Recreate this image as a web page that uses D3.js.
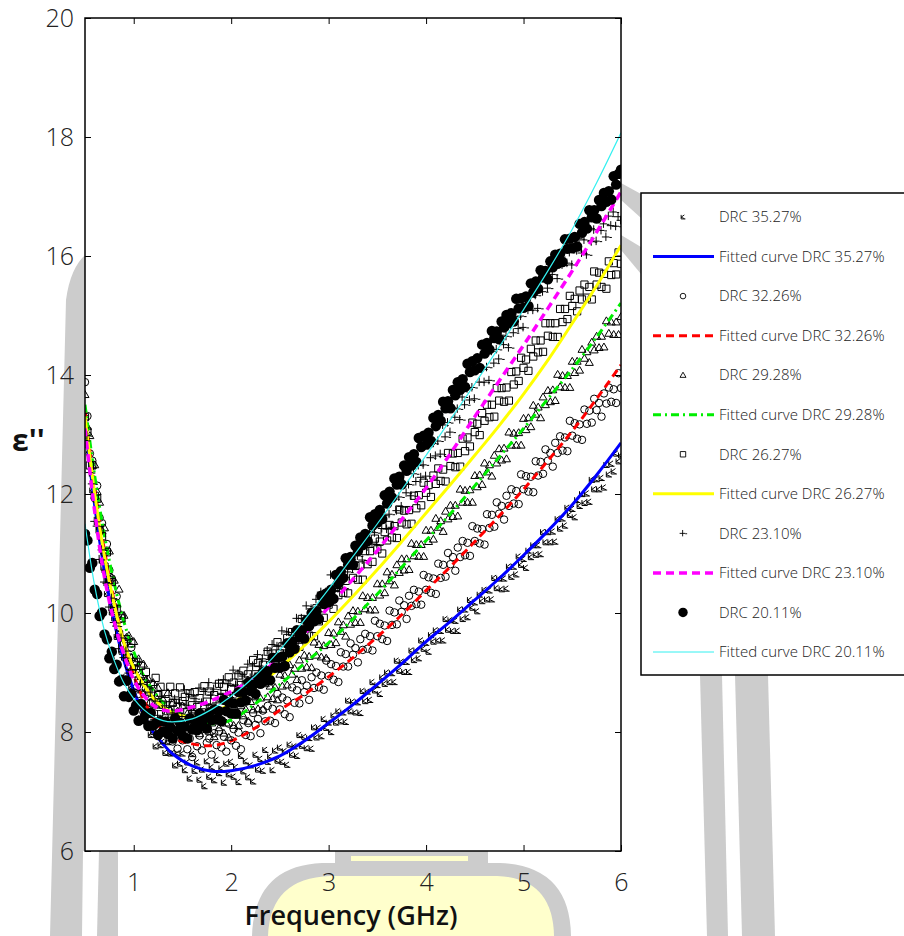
<!DOCTYPE html>
<html>
<head>
<meta charset="utf-8">
<script src="https://cdn.jsdelivr.net/npm/d3@7"></script>
<style>
  html, body { margin: 0; padding: 0; background: #fff; }
  svg { display: block; }
  text { font-family: "Open Sans", "DejaVu Sans", sans-serif; }
</style>
</head>
<body>
<svg id="chart" width="904" height="936"></svg>
<script>
// Loss factor ε'' versus frequency for latex samples with different dry rubber content (DRC)

// Frequency nodes of the fitted curves (GHz)
const fitFreq = [0.5, 0.6, 0.7, 0.8, 0.9, 1.0, 1.1, 1.2, 1.3, 1.4, 1.6, 1.8, 2.0, 2.25, 2.5, 2.75,
  3.0, 3.25, 3.5, 3.75, 4.0, 4.25, 4.5, 4.75, 5.0, 5.25, 5.5, 5.75, 6.0];

const fit3527 = [13.2, 11.8, 10.7, 9.85, 9.2, 8.7, 8.3, 8.0, 7.8, 7.63, 7.43, 7.34, 7.35, 7.44, 7.6, 7.85,
  8.15, 8.46, 8.8, 9.15, 9.52, 9.86, 10.22, 10.58, 10.97, 11.38, 11.82, 12.32, 12.86];
const fit3226 = [13.4, 12.1, 11.05, 10.2, 9.5, 8.95, 8.55, 8.25, 8.02, 7.9, 7.8, 7.77, 7.85, 8.07, 8.37, 8.63,
  8.93, 9.25, 9.6, 9.97, 10.38, 10.78, 11.2, 11.63, 12.08, 12.56, 13.06, 13.6, 14.17];
const fit2928 = [13.5, 12.3, 11.3, 10.5, 9.85, 9.35, 8.95, 8.7, 8.5, 8.38, 8.22, 8.14, 8.2, 8.48, 8.8, 9.15,
  9.5, 9.9, 10.32, 10.77, 11.22, 11.67, 12.14, 12.62, 13.1, 13.6, 14.1, 14.64, 15.21];
const fit2627 = [13.3, 12.0, 10.95, 10.15, 9.5, 9.08, 8.8, 8.57, 8.42, 8.32, 8.25, 8.32, 8.48, 8.75, 9.08, 9.45,
  9.85, 10.28, 10.73, 11.2, 11.68, 12.16, 12.65, 13.15, 13.68, 14.25, 14.87, 15.5, 16.18];
const fit2310 = [13.1, 11.7, 10.6, 9.85, 9.3, 8.88, 8.62, 8.45, 8.37, 8.35, 8.42, 8.53, 8.68, 8.92, 9.25, 9.65,
  10.1, 10.57, 11.05, 11.57, 12.1, 12.68, 13.3, 13.9, 14.5, 15.12, 15.75, 16.4, 17.08];
const fit2011 = [11.5, 10.45, 9.7, 9.2, 8.82, 8.56, 8.38, 8.26, 8.19, 8.17, 8.22, 8.38, 8.6, 8.95, 9.38, 9.88,
  10.4, 10.95, 11.5, 12.07, 12.65, 13.25, 13.85, 14.47, 15.1, 15.75, 16.45, 17.23, 18.07];

// Measurement sweep: 0.500 to 6.000 GHz in 0.025 GHz steps (four readings per 0.1 GHz)
const measFreq = d3.range(221).map(i => +(0.5 + i * 0.025).toFixed(3));

const drc3527 = [
  13.36, 12.83, 12.59, 12.06,  12.01, 11.53, 11.36, 10.88,  10.72, 10.32, 10.41, 10.01,
  9.91, 9.60, 9.67, 9.35,  9.25, 8.93, 9.03, 8.75,  8.76, 8.49, 8.51, 8.23,
  8.44, 8.18, 8.21, 7.95,  8.00, 7.76, 8.01, 7.78,  7.84, 7.65, 7.83, 7.64,
  7.65, 7.44, 7.64, 7.47,  7.64, 7.36, 7.49, 7.22,  7.63, 7.35, 7.49, 7.20,
  7.37, 7.09, 7.51, 7.25,  7.41, 7.19, 7.53, 7.31,  7.39, 7.15, 7.47, 7.29,
  7.50, 7.25, 7.41, 7.16,  7.60, 7.34, 7.51, 7.24,  7.44, 7.17, 7.62, 7.37,
  7.55, 7.35, 7.70, 7.50,  7.59, 7.36, 7.69, 7.52,  7.74, 7.50, 7.68, 7.45,
  7.79, 7.62, 7.76, 7.60,  7.95, 7.77, 7.92, 7.73,  7.90, 7.72, 8.08, 7.91,
  8.07, 7.93, 8.22, 8.07,  8.16, 8.00, 8.28, 8.16,  8.35, 8.18, 8.33, 8.17,
  8.53, 8.35, 8.51, 8.33,  8.50, 8.32, 8.69, 8.52,  8.68, 8.54, 8.84, 8.70,
  8.79, 8.64, 8.92, 8.81,  9.00, 8.84, 8.99, 8.84,  9.20, 9.03, 9.18, 9.01,
  9.18, 9.01, 9.37, 9.21,  9.37, 9.24, 9.54, 9.40,  9.50, 9.35, 9.63, 9.52,
  9.71, 9.54, 9.70, 9.54,  9.90, 9.72, 9.88, 9.70,  9.87, 9.70, 10.06, 9.90,
  10.06, 9.93, 10.22, 10.09,  10.18, 10.03, 10.31, 10.20,  10.39, 10.23, 10.38, 10.23,
  10.59, 10.42, 10.58, 10.40,  10.58, 10.41, 10.78, 10.61,  10.78, 10.65, 10.95, 10.81,
  10.91, 10.76, 11.05, 10.94,  11.14, 10.98, 11.14, 10.99,  11.36, 11.19, 11.36, 11.19,
  11.37, 11.20, 11.58, 11.42,  11.59, 11.47, 11.77, 11.65,  11.75, 11.61, 11.90, 11.80,
  12.00, 11.85, 12.01, 11.87,  12.24, 12.08, 12.25, 12.08,  12.27, 12.11, 12.49, 12.33,
  12.51, 12.38, 12.68, 12.55,
  12.65];

const drc3226 = [
  13.88, 13.31, 12.68, 12.56,  11.93, 12.14, 11.60, 11.51,  11.01, 11.16, 10.72, 10.58,
  10.10, 10.28, 9.89, 9.95,  9.49, 9.52, 9.10, 9.42,  8.98, 9.05, 8.64, 8.74,
  8.33, 8.73, 8.37, 8.48,  8.16, 8.46, 8.18, 8.20,  7.87, 8.19, 7.95, 8.15,
  7.84, 8.00, 7.72, 8.16,  7.86, 8.02, 7.71, 7.89,  7.58, 8.05, 7.76, 7.94,
  7.69, 8.05, 7.82, 7.89,  7.62, 7.98, 7.78, 8.01,  7.74, 7.92, 7.67, 8.14,
  7.86, 8.05, 7.77, 7.99,  7.71, 8.20, 7.95, 8.15,  7.93, 8.32, 8.12, 8.22,
  7.98, 8.36, 8.18, 8.44,  8.19, 8.39, 8.15, 8.64,  8.38, 8.58, 8.30, 8.53,
  8.25, 8.75, 8.49, 8.70,  8.48, 8.87, 8.67, 8.78,  8.54, 8.92, 8.74, 9.00,
  8.75, 8.95, 8.71, 9.20,  8.94, 9.14, 8.88, 9.11,  8.84, 9.34, 9.10, 9.31,
  9.10, 9.49, 9.30, 9.41,  9.17, 9.56, 9.38, 9.65,  9.40, 9.61, 9.37, 9.87,
  9.61, 9.82, 9.56, 9.79,  9.53, 10.04, 9.80, 10.01,  9.81, 10.21, 10.02, 10.13,
  9.90, 10.29, 10.12, 10.39,  10.15, 10.36, 10.14, 10.64,  10.39, 10.60, 10.34, 10.58,
  10.32, 10.83, 10.59, 10.81,  10.61, 11.01, 10.82, 10.94,  10.71, 11.10, 10.94, 11.21,
  10.97, 11.18, 10.96, 11.46,  11.21, 11.42, 11.17, 11.41,  11.15, 11.66, 11.43, 11.65,
  11.45, 11.86, 11.67, 11.80,  11.57, 11.97, 11.80, 12.08,  11.84, 12.05, 11.83, 12.33,
  12.08, 12.30, 12.04, 12.29,  12.03, 12.55, 12.31, 12.54,  12.34, 12.75, 12.56, 12.69,
  12.46, 12.86, 12.69, 12.97,  12.73, 12.95, 12.72, 13.23,  12.98, 13.19, 12.93, 13.17,
  12.91, 13.42, 13.18, 13.40,  13.20, 13.60, 13.41, 13.53,  13.30, 13.69, 13.52, 13.79,
  13.55, 13.76, 13.53, 14.03,
  13.78];

const drc2928 = [
  13.67, 13.13, 12.98, 12.48,  12.49, 12.04, 11.86, 11.38,  11.43, 11.05, 11.04, 10.60,
  10.55, 10.16, 10.40, 9.97,  9.96, 9.59, 9.62, 9.25,  9.52, 9.18, 9.23, 8.93,
  9.14, 8.88, 8.89, 8.59,  8.83, 8.60, 8.74, 8.45,  8.55, 8.29, 8.66, 8.37,
  8.49, 8.21, 8.35, 8.07,  8.44, 8.18, 8.31, 8.08,  8.37, 8.16, 8.22, 7.97,
  8.26, 8.07, 8.26, 8.01,  8.15, 7.92, 8.33, 8.07,  8.22, 7.98, 8.15, 7.91,
  8.32, 8.11, 8.28, 8.11,  8.44, 8.27, 8.38, 8.18,  8.51, 8.37, 8.59, 8.39,
  8.57, 8.38, 8.81, 8.59,  8.77, 8.56, 8.75, 8.54,  8.97, 8.77, 8.95, 8.79,
  9.13, 8.97, 9.07, 8.88,  9.21, 9.07, 9.29, 9.09,  9.27, 9.08, 9.51, 9.29,
  9.47, 9.26, 9.45, 9.24,  9.67, 9.47, 9.66, 9.50,  9.85, 9.69, 9.80, 9.61,
  9.95, 9.81, 10.04, 9.84,  10.03, 9.84, 10.29, 10.07,  10.26, 10.05, 10.26, 10.05,
  10.49, 10.30, 10.49, 10.34,  10.69, 10.54, 10.65, 10.47,  10.81, 10.68, 10.91, 10.72,
  10.91, 10.73, 11.17, 10.96,  11.15, 10.95, 11.15, 10.95,  11.39, 11.20, 11.39, 11.24,
  11.59, 11.44, 11.55, 11.37,  11.71, 11.58, 11.81, 11.62,  11.81, 11.63, 12.08, 11.86,
  12.06, 11.86, 12.07, 11.86,  12.31, 12.12, 12.32, 12.16,  12.52, 12.37, 12.49, 12.30,
  12.65, 12.52, 12.76, 12.57,  12.77, 12.59, 13.04, 12.82,  13.02, 12.82, 13.03, 12.82,
  13.27, 13.08, 13.28, 13.13,  13.49, 13.34, 13.46, 13.28,  13.63, 13.50, 13.74, 13.55,
  13.75, 13.57, 14.01, 13.80,  13.99, 13.79, 13.99, 13.79,  14.23, 14.04, 14.23, 14.08,
  14.43, 14.28, 14.39, 14.21,  14.55, 14.42, 14.65, 14.46,  14.65, 14.47, 14.91, 14.70,
  14.89, 14.68, 14.89, 14.68,
  14.98];

const drc2627 = [
  13.29, 13.05, 12.48, 12.48,  11.97, 11.92, 11.40, 11.29,  10.78, 11.02, 10.55, 10.52,
  10.04, 10.07, 9.64, 9.91,  9.49, 9.56, 9.25, 9.49,  9.17, 9.18, 8.86, 9.11,
  8.85, 9.01, 8.70, 8.80,  8.50, 8.91, 8.62, 8.76,  8.46, 8.64, 8.35, 8.76,
  8.49, 8.65, 8.42, 8.75,  8.52, 8.59, 8.34, 8.65,  8.45, 8.67, 8.42, 8.57,
  8.33, 8.77, 8.51, 8.68,  8.41, 8.62, 8.36, 8.81,  8.57, 8.76, 8.56, 8.92,
  8.72, 8.83, 8.61, 8.95,  8.79, 9.03, 8.80, 8.97,  8.75, 9.21, 8.97, 9.16,
  8.91, 9.13, 8.89, 9.35,  9.12, 9.32, 9.14, 9.51,  9.32, 9.44, 9.23, 9.58,
  9.43, 9.68, 9.46, 9.64,  9.43, 9.90, 9.67, 9.86,  9.62, 9.85, 9.61, 10.08,
  9.86, 10.08, 9.92, 10.31,  10.14, 10.27, 10.07, 10.44,  10.30, 10.56, 10.34, 10.54,
  10.33, 10.81, 10.59, 10.79,  10.56, 10.80, 10.56, 11.04,  10.82, 11.04, 10.86, 11.25,
  11.07, 11.20, 11.00, 11.36,  11.22, 11.48, 11.27, 11.46,  11.26, 11.74, 11.52, 11.72,
  11.49, 11.73, 11.50, 11.97,  11.76, 11.98, 11.81, 12.19,  12.02, 12.15, 11.95, 12.31,
  12.17, 12.43, 12.22, 12.41,  12.21, 12.69, 12.47, 12.68,  12.45, 12.69, 12.46, 12.93,
  12.72, 12.95, 12.80, 13.20,  13.04, 13.18, 12.99, 13.36,  13.23, 13.50, 13.29, 13.50,
  13.30, 13.78, 13.57, 13.78,  13.55, 13.79, 13.57, 14.05,  13.84, 14.06, 13.90, 14.29,
  14.12, 14.26, 14.07, 14.44,  14.31, 14.58, 14.38, 14.58,  14.39, 14.87, 14.66, 14.87,
  14.64, 14.87, 14.64, 15.11,  14.89, 15.11, 14.94, 15.33,  15.16, 15.28, 15.07, 15.42,
  15.27, 15.52, 15.30, 15.48,  15.27, 15.74, 15.52, 15.72,  15.48, 15.70, 15.45, 15.91,
  15.68, 15.88, 15.69, 16.06,
  15.87];

const drc2310 = [
  12.90, 12.98, 12.36, 12.17,  11.54, 11.46, 10.90, 11.06,  10.52, 10.50, 10.10, 10.25,
  9.84, 9.78, 9.40, 9.58,  9.25, 9.36, 8.99, 9.04,  8.68, 9.05, 8.71, 8.81,
  8.46, 8.61, 8.29, 8.67,  8.37, 8.52, 8.28, 8.60,  8.36, 8.44, 8.19, 8.51,
  8.32, 8.55, 8.32, 8.49,  8.26, 8.71, 8.45, 8.63,  8.36, 8.56, 8.30, 8.74,
  8.49, 8.68, 8.47, 8.83,  8.62, 8.72, 8.49, 8.82,  8.65, 8.88, 8.64, 8.81,
  8.58, 9.04, 8.79, 8.98,  8.72, 8.94, 8.69, 9.14,  8.91, 9.11, 8.93, 9.30,
  9.11, 9.23, 9.02, 9.37,  9.22, 9.47, 9.25, 9.44,  9.23, 9.70, 9.48, 9.68,
  9.44, 9.67, 9.44, 9.91,  9.69, 9.91, 9.73, 10.12,  9.94, 10.07, 9.87, 10.23,
  10.09, 10.35, 10.15, 10.35,  10.15, 10.64, 10.42, 10.64,  10.41, 10.65, 10.42, 10.90,
  10.69, 10.91, 10.74, 11.13,  10.96, 11.09, 10.89, 11.25,  11.11, 11.37, 11.16, 11.35,
  11.15, 11.64, 11.42, 11.64,  11.41, 11.66, 11.44, 11.92,  11.72, 11.95, 11.79, 12.18,
  12.02, 12.16, 11.97, 12.34,  12.21, 12.48, 12.28, 12.49,  12.30, 12.81, 12.61, 12.85,
  12.64, 12.89, 12.67, 13.16,  12.96, 13.20, 13.04, 13.45,  13.29, 13.43, 13.25, 13.63,
  13.50, 13.77, 13.58, 13.79,  13.60, 14.09, 13.88, 14.10,  13.88, 14.13, 13.91, 14.40,
  14.20, 14.43, 14.27, 14.67,  14.51, 14.65, 14.46, 14.84,  14.71, 14.98, 14.78, 14.99,
  14.80, 15.29, 15.09, 15.31,  15.09, 15.34, 15.12, 15.60,  15.40, 15.63, 15.46, 15.86,
  15.69, 15.82, 15.62, 15.99,  15.85, 16.10, 15.88, 16.06,  15.85, 16.32, 16.09, 16.29,
  16.05, 16.27, 16.02, 16.47,  16.24, 16.44, 16.25, 16.62,  16.43, 16.54, 16.32, 16.67,
  16.51, 16.74, 16.50, 16.66,
  16.60];

const drc2011 = [
  11.33, 11.22, 10.76, 10.84,  10.39, 10.32, 9.95, 10.01,  9.64, 9.56, 9.24, 9.35,
  9.06, 9.13, 8.85, 8.88,  8.60, 8.86, 8.59, 8.64,  8.36, 8.45, 8.19, 8.47,
  8.22, 8.31, 8.10, 8.32,  8.11, 8.15, 7.95, 8.18,  8.01, 8.17, 7.97, 8.08,
  7.89, 8.23, 8.02, 8.15,  7.94, 8.09, 7.89, 8.23,  8.04, 8.19, 8.03, 8.31,
  8.15, 8.23, 8.06, 8.33,  8.20, 8.38, 8.21, 8.35,  8.18, 8.54, 8.35, 8.50,
  8.31, 8.48, 8.31, 8.67,  8.50, 8.67, 8.53, 8.83,  8.69, 8.79, 8.64, 8.92,
  8.81, 9.01, 8.86, 9.02,  8.87, 9.25, 9.08, 9.25,  9.08, 9.27, 9.11, 9.49,
  9.34, 9.52, 9.40, 9.71,  9.59, 9.71, 9.57, 9.88,  9.78, 10.00, 9.86, 10.03,
  9.90, 10.29, 10.15, 10.33,  10.18, 10.39, 10.24, 10.64,  10.50, 10.70, 10.59, 10.92,
  10.81, 10.94, 10.81, 11.13,  11.04, 11.27, 11.14, 11.33,  11.21, 11.61, 11.47, 11.66,
  11.52, 11.73, 11.58, 11.98,  11.84, 12.04, 11.94, 12.26,  12.16, 12.29, 12.16, 12.48,
  12.39, 12.62, 12.48, 12.67,  12.54, 12.94, 12.79, 12.98,  12.83, 13.03, 12.89, 13.28,
  13.14, 13.33, 13.23, 13.55,  13.44, 13.56, 13.44, 13.75,  13.66, 13.88, 13.75, 13.93,
  13.80, 14.19, 14.05, 14.23,  14.08, 14.28, 14.12, 14.51,  14.36, 14.54, 14.43, 14.74,
  14.62, 14.73, 14.60, 14.90,  14.80, 15.01, 14.87, 15.04,  14.90, 15.28, 15.12, 15.29,
  15.13, 15.32, 15.16, 15.54,  15.39, 15.57, 15.45, 15.76,  15.64, 15.75, 15.61, 15.91,
  15.81, 16.02, 15.87, 16.04,  15.90, 16.28, 16.12, 16.29,  16.13, 16.32, 16.16, 16.54,
  16.39, 16.57, 16.46, 16.77,  16.65, 16.77, 16.63, 16.94,  16.84, 17.06, 16.91, 17.09,
  16.95, 17.34, 17.20, 17.38,
  17.45];

const xTicks = [1, 2, 3, 4, 5, 6];
const yTicks = [6, 8, 10, 12, 14, 16, 18, 20];
const drcLabels = ["35.27%", "32.26%", "29.28%", "26.27%", "23.10%", "20.11%"];

// ---------------------------------------------------------------------------
const svg = d3.select("#chart");
const m = { left: 85, right: 621, top: 18, bottom: 851 };

const x = d3.scaleLinear().domain([0.5, 6]).range([m.left, m.right]);
const y = d3.scaleLinear().domain([6, 20]).range([m.bottom, m.top]);

// Background emblem (faint grey arches and lamp shape behind the figure)
const bg = svg.append("g").attr("class", "emblem");
const grey = "#cccccc";
bg.append("path").attr("fill", grey)
  .attr("d", "M50,936 L66,300 Q71,262 92,250 L100,248 L100,851 L83,851 L82,936 Z");
bg.append("path").attr("fill", grey).attr("d", "M99,851 L118,851 L118,936 L97,936 Z");
bg.append("path").attr("fill", grey).attr("d", "M700,675 L722,675 L728,936 L707,936 Z");
bg.append("path").attr("fill", grey).attr("d", "M735,675 L768,675 L775,936 L742,936 Z");
bg.append("path").attr("fill", grey).attr("d", "M621,183 L641,194 L641,218 L621,200 Z");
bg.append("path").attr("fill", grey).attr("d", "M621,235 L641,247 L641,274 L621,250 Z");
// lamp body
bg.append("path").attr("fill", grey)
  .attr("d", "M335,850 L488,850 L488,863 L500,863 Q570,866 571,936 L252,936 Q254,866 322,863 L335,863 Z");
bg.append("path").attr("fill", "#ffffcc")
  .attr("d", "M268,936 Q270,878 330,876 L497,876 Q553,878 554,936 Z");
bg.append("rect").attr("fill", "#ffffcc").attr("x", 351).attr("y", 856).attr("width", 117).attr("height", 5);

// Plot area
svg.append("rect").attr("x", m.left).attr("y", m.top)
  .attr("width", m.right - m.left).attr("height", m.bottom - m.top)
  .attr("fill", "#fff");

svg.append("clipPath").attr("id", "clip").append("rect")
  .attr("x", m.left).attr("y", m.top)
  .attr("width", m.right - m.left).attr("height", m.bottom - m.top);
const plot = svg.append("g").attr("clip-path", "url(#clip)");

// Marker shapes
const markerPaths = {
  kx: "M-2.5,-2.8 L-2.5,2.6 L3.2,2.6 M-2.5,0.3 L1.8,-2.8 M-2.5,0.3 L2,2.2",
  circle: d3.symbol(d3.symbolCircle, 44)(),
  triangle: "M0,-4 L4,2.9 L-4,2.9 Z",
  square: "M-3.6,-3.6 H3.6 V3.6 H-3.6 Z",
  plus: "M-4.5,0 H3 M-0.5,-4.5 V4 M3,0.5 H5.5",
  dot: d3.symbol(d3.symbolCircle, 86)()
};

const series = [
  { meas: drc3527, fit: fit3527, marker: "kx", fill: "none", color: "#0000ff", width: 3, dash: null },
  { meas: drc3226, fit: fit3226, marker: "circle", fill: "none", color: "#ff0000", width: 3, dash: "8,5" },
  { meas: drc2928, fit: fit2928, marker: "triangle", fill: "none", color: "#00ee00", width: 3, dash: "8,4,2,4" },
  { meas: drc2627, fit: fit2627, marker: "square", fill: "none", color: "#ffff00", width: 3, dash: null },
  { meas: drc2310, fit: fit2310, marker: "plus", fill: "none", color: "#ff00ff", width: 3.5, dash: "8,5" },
  { meas: drc2011, fit: fit2011, marker: "dot", fill: "#000", color: "#33f0f0", width: 1.2, dash: null }
];

const line = d3.line()
  .x(d => x(d[0])).y(d => y(d[1]))
  .curve(d3.curveCatmullRom.alpha(0.5));

series.forEach(s => {
  plot.append("g").selectAll("path")
    .data(measFreq.map((f, i) => [f, s.meas[i]]))
    .join("path")
    .attr("transform", d => `translate(${x(d[0])},${y(d[1])})`)
    .attr("d", markerPaths[s.marker])
    .attr("fill", s.fill)
    .attr("stroke", "#000")
    .attr("stroke-width", s.marker === "dot" ? 0 : 1);

  plot.append("path")
    .datum(fitFreq.map((f, i) => [f, s.fit[i]]))
    .attr("d", line)
    .attr("fill", "none")
    .attr("stroke", s.color)
    .attr("stroke-width", s.width)
    .attr("stroke-dasharray", s.dash);
});

// Axes with inward ticks on all four sides
const axL = svg.append("g").attr("transform", `translate(${m.left},0)`)
  .call(d3.axisLeft(y).tickValues(yTicks).tickSizeInner(-6).tickSizeOuter(0).tickPadding(11));
const axB = svg.append("g").attr("transform", `translate(0,${m.bottom})`)
  .call(d3.axisBottom(x).tickValues(xTicks).tickFormat(d3.format("d"))
    .tickSizeInner(-6).tickSizeOuter(0).tickPadding(22));
const axT = svg.append("g").attr("transform", `translate(0,${m.top})`)
  .call(d3.axisTop(x).tickValues(xTicks).tickSizeInner(-6).tickSizeOuter(0).tickFormat(""));
const axR = svg.append("g").attr("transform", `translate(${m.right},0)`)
  .call(d3.axisRight(y).tickValues(yTicks).tickSizeInner(-6).tickSizeOuter(0).tickFormat(""));

[axL, axB, axT, axR].forEach(a => {
  a.select(".domain").remove();
  a.selectAll(".tick line").attr("stroke", "#000").attr("stroke-width", 1);
  a.selectAll(".tick text")
    .attr("font-family", "'Open Sans', sans-serif")
    .attr("font-weight", 300)
    .attr("font-size", 25)
    .attr("fill", "#222");
});

svg.append("rect").attr("x", m.left).attr("y", m.top)
  .attr("width", m.right - m.left).attr("height", m.bottom - m.top)
  .attr("fill", "none").attr("stroke", "#000").attr("stroke-width", 1.5);

// Axis titles
svg.append("text").attr("x", 351).attr("y", 925)
  .attr("text-anchor", "middle")
  .attr("font-size", 27).attr("font-weight", 600).attr("fill", "#111")
  .text("Frequency (GHz)");
svg.append("text").attr("x", 12).attr("y", 451)
  .attr("font-size", 30).attr("font-weight", 700).attr("fill", "#111")
  .text("ε''");

// Legend
const lg = svg.append("g");
lg.append("rect").attr("x", 641).attr("y", 193).attr("width", 270).attr("height", 482)
  .attr("fill", "#fff").attr("stroke", "#000").attr("stroke-width", 1.5);

const legendRows = [];
series.forEach((s, i) => {
  legendRows.push({ type: "marker", s, label: "DRC " + drcLabels[i] });
  legendRows.push({ type: "line", s, label: "Fitted curve DRC " + drcLabels[i] });
});
const rowY = d3.scaleLinear().domain([0, legendRows.length - 1]).range([217, 652]);

legendRows.forEach((r, i) => {
  const yy = rowY(i);
  if (r.type === "marker") {
    const scale = r.s.marker === "dot" ? 0.9 : 0.75;
    lg.append("path")
      .attr("transform", `translate(683,${yy}) scale(${scale})`)
      .attr("d", markerPaths[r.s.marker])
      .attr("fill", r.s.fill)
      .attr("stroke", "#000")
      .attr("stroke-width", r.s.marker === "dot" ? 0 : 1.2);
  } else {
    lg.append("line")
      .attr("x1", 653).attr("x2", 714).attr("y1", yy).attr("y2", yy)
      .attr("stroke", r.s.color)
      .attr("stroke-width", r.s.marker === "dot" ? 1 : r.s.width)
      .attr("stroke-dasharray", r.s.dash);
  }
  lg.append("text").attr("x", 719).attr("y", yy).attr("dy", "0.35em")
    .attr("font-size", 15).attr("font-weight", 300).attr("fill", "#222")
    .text(r.label);
});
</script>
</body>
</html>
